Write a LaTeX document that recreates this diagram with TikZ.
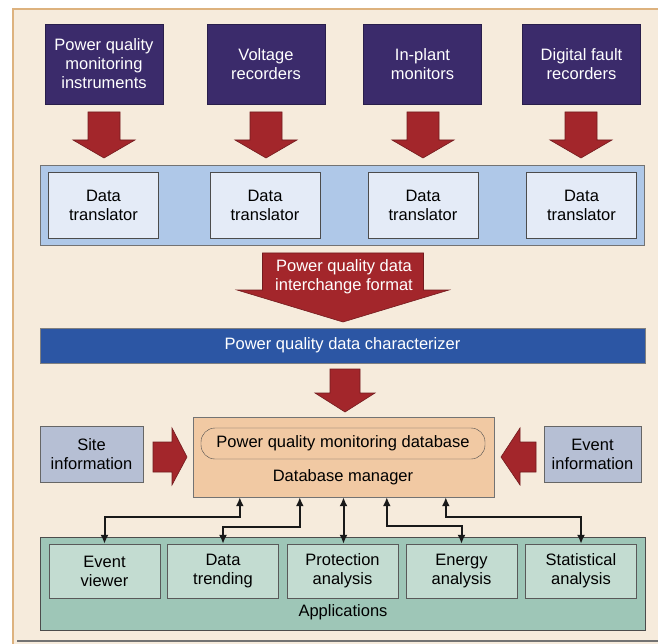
\documentclass[tikz,border=0pt]{standalone}
\usepackage{fontspec}
\setmainfont{Liberation Sans}
\usepackage{xcolor}
\usepackage{tikz}
\usetikzlibrary{positioning,arrows.meta,calc}

\definecolor{paper}{HTML}{F6EBDC}
\definecolor{rim}{HTML}{DDB27E}
\definecolor{navy}{HTML}{3B2B6B}
\definecolor{brick}{HTML}{A3262B}
\definecolor{band}{HTML}{AFC8E8}
\definecolor{pale}{HTML}{E4EBF7}
\definecolor{royal}{HTML}{2C56A4}
\definecolor{slate}{HTML}{B6BFD4}
\definecolor{peach}{HTML}{F1C9A3}
\definecolor{sea}{HTML}{9EC6B7}
\definecolor{mint}{HTML}{C3DCD1}

% block arrow pointing down: x, top, base of head, tip, half shaft, half head
\newcommand{\fatdown}[6]{%
  \filldraw[fat] (#1-#5,#2) -- (#1+#5,#2) -- (#1+#5,#3) -- (#1+#6,#3) -- (#1,#4)
    -- (#1-#6,#3) -- (#1-#5,#3) -- cycle;}

\begin{document}
\begin{tikzpicture}[x=1pt,y=-1pt,font=\fontsize{16.5}{19}\selectfont,>=Latex,
  src/.style={fill=navy,draw=navy!70!black,text=white,minimum width=118pt,minimum height=80pt,align=center,inner sep=0pt},
  trans/.style={fill=pale,draw=black!70,minimum width=110pt,minimum height=66pt,align=center,inner sep=0pt},
  info/.style={fill=slate,draw=black!60,minimum height=56pt,align=center,inner sep=0pt},
  app/.style={fill=mint,draw=black!65,minimum width=111pt,minimum height=54pt,align=center,inner sep=0pt},
  fat/.style={fill=brick,draw=brick!70!black,line width=0.6pt},
  link/.style={{Latex[length=9pt,width=8pt]}-{Latex[length=9pt,width=8pt]},line width=2pt,draw=black!90}]
\useasboundingbox (0,0) rectangle (658,644);
\fill[white] (0,0) rectangle (658,644);
\fill[paper] (12,8) rectangle (658,644);
\draw[rim,line width=2pt] (13,644) -- (13,9) -- (658,9);
\draw[black!55,line width=2pt] (17,641) -- (658,641);

% sources
\node[src] (s1) at (104,64) {Power quality\\monitoring\\instruments};
\node[src] (s2) at (266,64) {Voltage\\recorders};
\node[src] (s3) at (422.5,64) {In-plant\\monitors};
\node[src] (s4) at (581.5,64) {Digital fault\\recorders};

% translators
\node[fill=band,draw=black!55,minimum width=604pt,minimum height=80pt] (tband) at (342,205) {};
\node[trans] (t1) at (103.5,205) {Data\\translator};
\node[trans] (t2) at (265,205) {Data\\translator};
\node[trans] (t3) at (423,205) {Data\\translator};
\node[trans] (t4) at (581.5,205) {Data\\translator};

\fatdown{104}{112}{140}{158}{16}{31}
\fatdown{266}{112}{140}{158}{16}{31}
\fatdown{423}{112}{140}{158}{16}{31}
\fatdown{581}{112}{140}{158}{16}{31}

% interchange format
\fatdown{343}{253}{290}{322}{80.5}{106}
\node[text=white,align=center] (pqdif) at (344,276.5) {Power quality data\\interchange format};

\node[fill=royal,draw=black!50,text=white,minimum width=605pt,minimum height=35pt] (char) at (342.5,345.5) {Power quality data characterizer};
\fatdown{345}{369}{393}{412}{15}{30}

% database
\node[fill=peach,draw=black!55,minimum width=301pt,minimum height=80pt] (db) at (343.5,457) {};
\node[draw=black!70,rounded corners=14pt,minimum width=284pt,minimum height=31pt,inner sep=0pt] (dbin) at (343,443.5) {Power quality monitoring database};
\node (dbm) at (343,477) {Database manager};

\node[info,minimum width=103pt] (site) at (91.5,454) {Site\\information};
\node[info,minimum width=97pt] (event) at (592.5,454) {Event\\information};
\filldraw[fat] (153,442) -- (172,442) -- (172,428) -- (187,457) -- (172,485) -- (172,472) -- (153,472) -- cycle;
\filldraw[fat] (536,442) -- (520,442) -- (520,428) -- (501,457) -- (520,485) -- (520,472) -- (536,472) -- cycle;

% applications
\node[fill=sea,draw=black!70,minimum width=605pt,minimum height=93pt] (apps) at (342.5,583.5) {};
\node[app] (ev) at (104.5,571) {Event\\viewer};
\node[app] (dt) at (223,571) {Data\\trending};
\node[app] (pa) at (342.5,571) {Protection\\analysis};
\node[app] (ea) at (461.5,571) {Energy\\analysis};
\node[app] (sa) at (581,571) {Statistical\\analysis};
\node (applab) at (343,612) {Applications};

\draw[link] ([xshift=47pt]db.south west) -- ++(0,20) -| (ev.north);
\draw[link] ([xshift=107pt]db.south west) -- ++(0,30) -| (dt.north);
\draw[link] (db.south) -- (pa.north -| db.south);
\draw[link] ([xshift=194pt]db.south west) -- ++(0,29) -| (ea.north);
\draw[link] ([xshift=253pt]db.south west) -- ++(0,20) -| (sa.north);
\end{tikzpicture}
\end{document}
